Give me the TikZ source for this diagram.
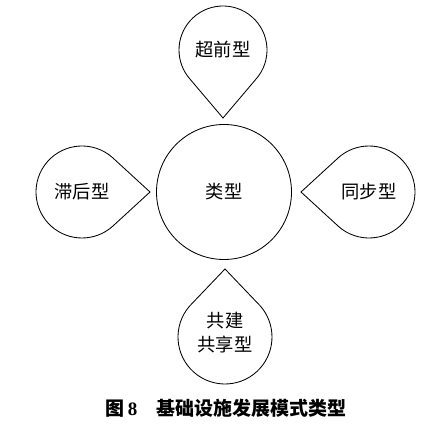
\documentclass[tikz,border=0pt]{standalone}
\usepackage{fontspec}
\newfontfamily\cjk{Noto Sans CJK SC}
\newfontfamily\tnr{Liberation Serif}
\usetikzlibrary{calc,positioning}

% teardrop: centre, direction of the tip, radius
\newcommand{\teardrop}[3]{%
  \draw[line width=0.6pt] ($(#1)+(#2+48.6:#3)$) arc[start angle=#2+48.6, end angle=#2+311.4, radius=#3]
    -- ($(#1)+(#2:68)$) -- cycle;}

\begin{document}
\begin{tikzpicture}[x=0.25mm, y=0.25mm,
  lbl/.style={font=\cjk\fontsize{13}{17}\selectfont, align=center, inner sep=0pt},
  core/.style={draw, circle, line width=0.6pt, minimum size=33.75mm, font=\cjk\fontsize{13}{17}\selectfont}]
  \useasboundingbox (0,0) rectangle (444,436);
  \node[core] (leixing) at (224,244) {类型};
  % drops round the core
  \coordinate (ctop) at (223,386);
  \coordinate (cleft) at (82,244);
  \coordinate (cright) at (369,244);
  \coordinate (cbottom) at (225,99);
  \teardrop{ctop}{-90}{44}
  \teardrop{cleft}{0}{46}
  \teardrop{cright}{180}{46}
  \teardrop{cbottom}{90}{47}
  \node[lbl] (chaoqian) at (ctop) {超前型};
  \node[lbl] (zhihou) at (cleft) {滞后型};
  \node[lbl] (tongbu) at (cright) {同步型};
  \node[lbl] (gongjian) at ($(cbottom)+(0,4)$) {共建\\共享型};
  % caption
  \node[font=\cjk\bfseries\fontsize{13.5}{16}\selectfont] (caption) at (226,28)
    {图\,{\tnr\bfseries 8}\quad 基础设施发展模式类型};
\end{tikzpicture}
\end{document}
